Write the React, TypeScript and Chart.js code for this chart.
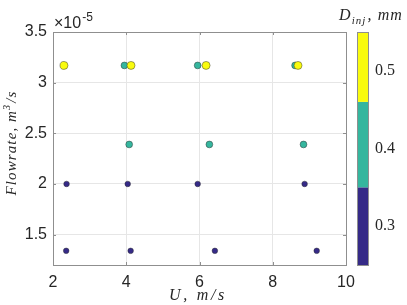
import React, { useEffect, useRef } from "react";
import { Chart, registerables } from "chart.js";

Chart.register(...registerables);

// Injector diameter groups (mm)
const diameters = [0.5, 0.4, 0.3];
const groupColors = ["#f9fb0e", "#35b69e", "#352a87"];

// D = 0.5 mm
const u05 = [2.3, 4.13, 6.18, 8.69];
const q05 = [3.17e-5, 3.17e-5, 3.17e-5, 3.17e-5];
// D = 0.4 mm
const u04 = [3.95, 5.95, 8.61, 4.08, 6.27, 8.84];
const q04 = [3.17e-5, 3.17e-5, 3.17e-5, 2.39e-5, 2.39e-5, 2.39e-5];
// D = 0.3 mm
const u03 = [2.37, 4.04, 5.95, 8.87, 2.36, 4.12, 6.42, 9.2];
const q03 = [2.0e-5, 2.0e-5, 2.0e-5, 2.0e-5, 1.34e-5, 1.34e-5, 1.34e-5, 1.34e-5];

const xTicks = [2, 4, 6, 8, 10];
const yTicks = [1.5e-5, 2.0e-5, 2.5e-5, 3.0e-5, 3.5e-5];
const cbEdges = [0.25, 0.35, 0.46, 0.55];
const cbColors = ["#352a87", "#35b69e", "#f9fb0e"];
const cbTicks = [0.3, 0.4, 0.5];

const pts = (xs: number[], ys: number[]) => xs.map((x, i) => ({ x, y: ys[i] }));

const AXIS = "#8f8f8f";
const TXT = "#262626";
const SERIF = "'Liberation Serif'";

type Part = { t: string; sub?: boolean; sup?: boolean };

// draw a run of text pieces (with sub/superscripts) fitted to a target width
function drawRich(ctx: any, parts: Part[], x: number, y: number, target: number, base: number, align: "left" | "center") {
  const widthAt = (size: number) => {
    let w = 0;
    for (const p of parts) {
      ctx.font = `italic ${p.sub || p.sup ? size * 0.68 : size}px ${SERIF}`;
      w += ctx.measureText(p.t).width + (p.sub || p.sup ? 1 : 0);
    }
    return w;
  };
  const w0 = widthAt(base);
  const spacing = Math.max(0, (target - w0) / Math.max(1, parts.reduce((n, p) => n + p.t.length, 0)));
  let total = 0;
  for (const p of parts) {
    ctx.font = `italic ${p.sub || p.sup ? base * 0.68 : base}px ${SERIF}`;
    total += ctx.measureText(p.t).width + p.t.length * spacing + (p.sub || p.sup ? 1 : 0);
  }
  let cx = align === "center" ? x - total / 2 : x;
  ctx.textAlign = "left";
  for (const p of parts) {
    const size = p.sub || p.sup ? base * 0.68 : base;
    ctx.font = `italic ${size}px ${SERIF}`;
    const dy = p.sub ? base * 0.22 : p.sup ? -base * 0.42 : 0;
    for (const ch of p.t) {
      ctx.fillText(ch, cx, y + dy);
      cx += ctx.measureText(ch).width + spacing;
    }
    if (p.sub || p.sup) cx += 1;
  }
}

const zeroPad = (s: any) => {
  s.paddingTop = 0;
  s.paddingBottom = 0;
  s.paddingLeft = 0;
  s.paddingRight = 0;
};

const decorPlugin = {
  id: "decor",
  afterDraw(chart: any) {
    const ctx = chart.ctx;
    const { left, right, top, bottom } = chart.chartArea;
    const xs = chart.scales.x;
    const ys = chart.scales.y;
    const cb = chart.scales.cb;
    ctx.save();
    // colorbar
    const cbL = right + 11;
    const cbW = 11;
    for (let i = 0; i < cbColors.length; i++) {
      const y0 = cb.getPixelForValue(cbEdges[i]);
      const y1 = cb.getPixelForValue(cbEdges[i + 1]);
      ctx.fillStyle = cbColors[i];
      ctx.fillRect(cbL, y1, cbW, y0 - y1);
    }
    const cbTop = cb.getPixelForValue(cbEdges[cbEdges.length - 1]);
    const cbBot = cb.getPixelForValue(cbEdges[0]);
    ctx.strokeStyle = AXIS;
    ctx.lineWidth = 1;
    ctx.strokeRect(cbL + 0.5, Math.round(cbTop) + 0.5, cbW, Math.round(cbBot - cbTop));

    // box
    ctx.strokeRect(Math.round(left) + 0.5, Math.round(top) + 0.5, Math.round(right - left), Math.round(bottom - top));
    // inward ticks
    ctx.beginPath();
    for (const t of xTicks) {
      const px = Math.round(xs.getPixelForValue(t)) + 0.5;
      ctx.moveTo(px, bottom);
      ctx.lineTo(px, bottom - 3);
      ctx.moveTo(px, top);
      ctx.lineTo(px, top + 3);
    }
    for (const t of yTicks) {
      const py = Math.round(ys.getPixelForValue(t)) + 0.5;
      ctx.moveTo(left, py);
      ctx.lineTo(left + 3, py);
      ctx.moveTo(right, py);
      ctx.lineTo(right - 3, py);
    }
    ctx.stroke();

    // exponent label
    ctx.fillStyle = TXT;
    ctx.textBaseline = "alphabetic";
    ctx.textAlign = "left";
    ctx.font = "16px 'Liberation Sans'";
    ctx.fillText("\u00d710", left + 1, 28);
    const w10 = ctx.measureText("\u00d710").width;
    ctx.font = "12px 'Liberation Sans'";
    ctx.fillText("-5", left + 1 + w10 + 1, 21);

    // x title
    drawRich(ctx, [{ t: "U, m/s" }], 198, 300, 58, 16, "center");

    // y title
    ctx.save();
    ctx.translate(16, 143);
    ctx.rotate(-Math.PI / 2);
    drawRich(ctx, [{ t: "Flowrate, m" }, { t: "3", sup: true }, { t: "/s" }], 0, 0, 105, 15, "center");
    ctx.restore();

    // colorbar title
    drawRich(ctx, [{ t: "D" }, { t: "inj", sub: true }, { t: ", mm" }], 339, 20, 64, 16, "left");
    ctx.restore();
  },
};

export default function App() {
  const ref = useRef<HTMLCanvasElement | null>(null);
  useEffect(() => {
    if (!ref.current) return;
    const datasets = [
      { label: String(diameters[0]), data: pts(u05, q05), backgroundColor: groupColors[0], pointRadius: 4, order: 0 },
      { label: String(diameters[1]), data: pts(u04, q04), backgroundColor: groupColors[1], pointRadius: 3.4, order: 1 },
      { label: String(diameters[2]), data: pts(u03, q03), backgroundColor: groupColors[2], pointRadius: 2.8, order: 2 },
    ].map((d) => ({ ...d, borderColor: "rgba(40,40,40,0.75)", borderWidth: 0.6, pointHoverRadius: d.pointRadius }));

    const chart = new Chart(ref.current, {
      type: "scatter",
      data: { datasets },
      options: {
        animation: false,
        responsive: false,
        maintainAspectRatio: false,
        events: [],
        layout: { padding: { top: 32, left: 0, right: 0, bottom: 0 } },
        plugins: { legend: { display: false }, tooltip: { enabled: false } },
        scales: {
          x: {
            type: "linear",
            min: 2,
            max: 10,
            afterBuildTicks: (s: any) => { s.ticks = xTicks.map((v) => ({ value: v })); },
            afterFit: (s: any) => { s.height = 40; zeroPad(s); },
            grid: { color: "#e6e6e6", drawTicks: false },
            border: { display: false },
            ticks: {
              padding: 8,
              color: TXT,
              font: { family: "'Liberation Sans'", size: 16 },
              callback: (v: any) => String(v),
            },
          },
          y: {
            type: "linear",
            min: 1.2e-5,
            max: 3.5e-5,
            afterBuildTicks: (s: any) => { s.ticks = yTicks.map((v) => ({ value: v })); },
            afterFit: (s: any) => { s.width = 53; zeroPad(s); },
            grid: { color: "#e6e6e6", drawTicks: false },
            border: { display: false },
            ticks: {
              padding: 6,
              color: TXT,
              font: { family: "'Liberation Sans'", size: 16 },
              callback: (v: any) => {
                const m = Math.round(Number(v) * 1e6) / 10;
                return String(m);
              },
            },
          },
          cb: {
            type: "linear",
            axis: "y",
            position: "right",
            min: cbEdges[0],
            max: cbEdges[cbEdges.length - 1],
            afterBuildTicks: (s: any) => { s.ticks = cbTicks.map((v) => ({ value: v })); },
            afterFit: (s: any) => { s.width = 61; zeroPad(s); },
            grid: { display: false, drawTicks: false },
            border: { display: false },
            ticks: {
              padding: 29,
              color: TXT,
              font: { family: SERIF, size: 16 },
              callback: (v: any) => Number(v).toFixed(1),
            },
          },
        },
      },
      plugins: [decorPlugin],
    } as any);
    return () => chart.destroy();
  }, []);
  return (
    <div style={{ position: "fixed", left: 0, top: 0, width: 407, height: 305, background: "#fff" }}>
      <canvas ref={ref} width={407} height={305} style={{ width: 407, height: 305 }} />
    </div>
  );
}
